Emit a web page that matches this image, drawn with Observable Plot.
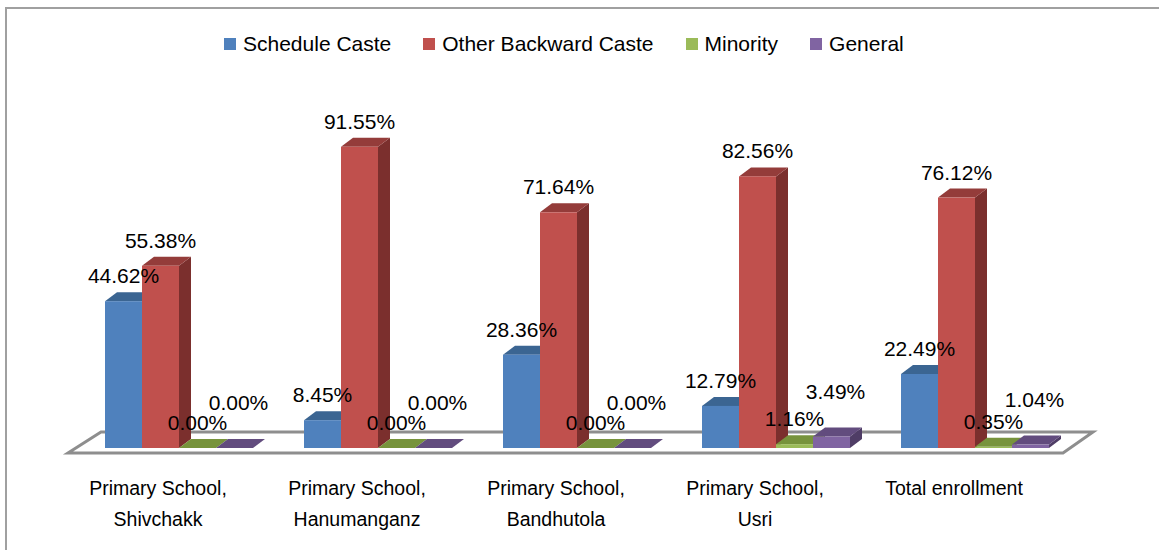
<!DOCTYPE html>
<html><head><meta charset="utf-8">
<script src="https://cdn.jsdelivr.net/npm/d3@7"></script>
<script src="https://cdn.jsdelivr.net/npm/@observablehq/plot@0.6"></script>
<style>
body{margin:0;background:#fff;font-family:"Liberation Sans",Arial,sans-serif;}
#wrap{position:relative;width:1159px;height:550px;overflow:hidden;background:#fff;}
#frame{position:absolute;left:5px;top:7px;width:1300px;height:700px;border:2px solid #a0a0a0;box-sizing:border-box;}
#legend{position:absolute;left:224px;top:32px;height:24px;display:flex;align-items:center;font-size:21px;color:#000;white-space:nowrap;}
.item{display:flex;align-items:center;margin-right:32px}
.sw{width:12px;height:12px;margin-right:7px}
#chart{position:absolute;left:0;top:75px;}
</style></head>
<body><div id="wrap"><div id="frame"></div><div id="legend"></div><div id="chart"></div></div>
<script>
const categories = ["Primary School,\nShivchakk", "Primary School,\nHanumanganz", "Primary School,\nBandhutola", "Primary School,\nUsri", "Total enrollment"];
const series = ["Schedule Caste", "Other Backward Caste", "Minority", "General"];
const scheduleCaste = [44.62, 8.45, 28.36, 12.79, 22.49];
const otherBackward = [55.38, 91.55, 71.64, 82.56, 76.12];
const minority = [0.00, 0.00, 0.00, 1.16, 0.35];
const general = [0.00, 0.00, 0.00, 3.49, 1.04];
const frontColors = ["#4F81BD", "#C0504D", "#9BBB59", "#8064A2"];
const topColors = ["#3B6592", "#943C3A", "#77933C", "#624C7E"];
const sideColors = ["#2F5077", "#7B2F2D", "#5F7630", "#4F3D66"];

const seriesValues = [scheduleCaste, otherBackward, minority, general];
const data = [];
categories.forEach((c, ci) => series.forEach((s, si) => data.push({cat: c, series: s, si, value: seriesValues[si][ci]})));

// legend
const legend = document.getElementById("legend");
series.forEach((s, i) => {
  const it = document.createElement("div"); it.className = "item";
  const sw = document.createElement("div"); sw.className = "sw"; sw.style.background = frontColors[i];
  const tx = document.createElement("span"); tx.textContent = s;
  it.appendChild(sw); it.appendChild(tx); legend.appendChild(it);
});

// the x scale built by Plot, read back after render
let xs = null;
function xScale(scales) {
  const sx = scales.x;
  if (sx && typeof sx === "function" && sx(categories[0]) != null && !isNaN(sx(categories[0]))) {
    const bw = typeof sx.bandwidth === "function" ? sx.bandwidth() : sx.bandwidth;
    if (bw > 0) return {pos: c => sx(c), bw};
  }
  return {pos: c => xs.apply(c), bw: xs.bandwidth};
}

const DX = 12, DY = 9;
function geom(d, scales) {
  const X = xScale(scales);
  const sub = d3.scaleBand().domain(series).range([0, X.bw]);
  const x0 = X.pos(d.cat) + sub(d.series);
  return {x0, w: sub.bandwidth(), y0: scales.y(0), yt: scales.y(d.value)};
}

function floorMark(index, scales) {
  const g = d3.create("svg:g");
  const X = xScale(scales);
  const xl = X.pos(categories[0]);
  const xr = X.pos(categories[categories.length - 1]) + X.bw;
  const y0 = scales.y(0);
  const pts = [[xl - 37, y0 + 5], [xr + 14, y0 + 5], [xr + 44, y0 - 16], [xl - 4, y0 - 16]];
  g.append("polygon").attr("points", pts.map(p => p.join(",")).join(" "))
    .attr("fill", "#fff").attr("stroke", "#8e8e8e").attr("stroke-width", 3).attr("stroke-linejoin", "miter");
  return g.node();
}

function barsMark(index, scales) {
  const g = d3.create("svg:g");
  for (const d of data) {
    const {x0, w, y0, yt} = geom(d, scales);
    const x1 = x0 + w;
    g.append("polygon").attr("fill", sideColors[d.si])
      .attr("points", [[x1, yt], [x1 + DX, yt - DY], [x1 + DX, y0 - DY], [x1, y0]].map(p => p.join(",")).join(" "));
    g.append("polygon").attr("fill", topColors[d.si])
      .attr("points", [[x0, yt], [x1, yt], [x1 + DX, yt - DY], [x0 + DX, yt - DY]].map(p => p.join(",")).join(" "));
    g.append("rect").attr("x", x0).attr("y", yt).attr("width", w).attr("height", Math.max(0, y0 - yt)).attr("fill", frontColors[d.si]);
  }
  return g.node();
}

function labelsMark(index, scales) {
  const g = d3.create("svg:g").attr("font-size", 21).attr("text-anchor", "middle").attr("fill", "#000");
  for (const d of data) {
    const {x0, w, yt} = geom(d, scales);
    const isGen = d.si === 3;
    g.append("text").attr("x", x0 + w / 2 + (isGen ? 4 : 0)).attr("y", yt - (isGen ? 38 : 18))
      .text(d.value.toFixed(2) + "%");
  }
  return g.node();
}

const options = {
  width: 1159,
  height: 475,
  marginLeft: 105,
  marginRight: 110,
  marginTop: 44,
  marginBottom: 102,
  style: {fontFamily: "'Liberation Sans', Arial, sans-serif", background: "transparent", overflow: "visible"},
  x: {type: "band", domain: categories, paddingInner: 51 / 199, paddingOuter: 0, round: false},
  y: {domain: [0, 100], axis: null}
};
// first pass to obtain the band scale exactly as Plot computes it
const probe = Plot.plot({...options, marks: [Plot.axisX({label: null})]});
xs = probe.scale("x");

const plot = Plot.plot({
  ...options,
  marks: [
    floorMark,
    barsMark,
    labelsMark,
    Plot.axisX({tickSize: 0, tickPadding: 24, fontSize: 19.5, lineHeight: 1.6, dx: -21.5, label: null, tickFormat: d => d, fill: "#000"})
  ]
});
document.getElementById("chart").appendChild(plot);
</script>
</body></html>
